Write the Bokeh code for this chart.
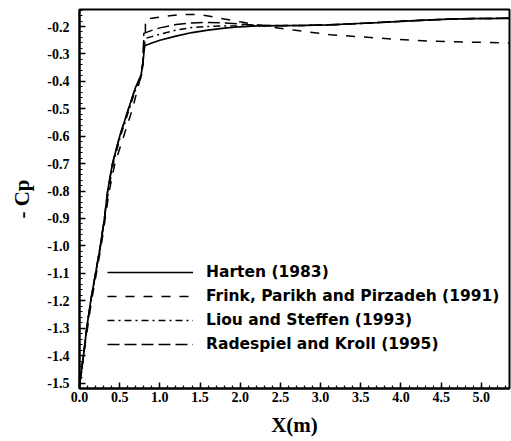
from bokeh.plotting import figure
from bokeh.models import Legend, LegendItem, FixedTicker, NumeralTickFormatter
from bokeh.embed import file_html
from bokeh.resources import INLINE

# ---- data ----
harten_x = [0.0, 0.05, 0.09, 0.14, 0.20, 0.26, 0.31, 0.35, 0.41, 0.50, 0.61, 0.70, 0.76, 0.79, 0.81, 0.90,
            1.0, 1.2, 1.4, 1.6, 1.8, 2.0, 2.2, 2.5, 2.8, 3.1, 3.4, 3.7, 4.0, 4.3, 4.6, 4.9, 5.35]
harten_y = [-1.51, -1.4, -1.3, -1.2, -1.1, -1.0, -0.9, -0.8, -0.7, -0.6, -0.5, -0.42, -0.39, -0.33, -0.27, -0.26,
            -0.25, -0.235, -0.222, -0.213, -0.206, -0.201, -0.198, -0.197, -0.196, -0.194, -0.19, -0.186, -0.181,
            -0.177, -0.173, -0.171, -0.17]

frink_x = [0.0, 0.05, 0.10, 0.15, 0.21, 0.27, 0.32, 0.37, 0.44, 0.55, 0.66, 0.73, 0.78, 0.80, 0.82, 0.82,
           0.90, 1.05, 1.28, 1.48, 1.72, 2.0, 2.3, 2.66, 3.12, 3.62, 3.9, 4.4, 5.02, 5.35]
frink_y = [-1.51, -1.4, -1.3, -1.2, -1.1, -1.0, -0.9, -0.8, -0.7, -0.6, -0.5, -0.42, -0.36, -0.30, -0.24, -0.174,
           -0.17, -0.163, -0.156, -0.156, -0.168, -0.183, -0.198, -0.213, -0.23, -0.24, -0.246, -0.254, -0.258, -0.26]

liou_x = [0.0, 0.05, 0.09, 0.14, 0.20, 0.26, 0.31, 0.36, 0.42, 0.51, 0.62, 0.71, 0.77, 0.79, 0.80, 0.90,
          1.0, 1.2, 1.4, 1.6, 1.8, 2.0, 2.2, 2.5, 2.8, 3.1, 3.4, 3.7, 4.0, 4.3, 4.6, 4.9, 5.35]
liou_y = [-1.51, -1.4, -1.3, -1.2, -1.1, -1.0, -0.9, -0.8, -0.7, -0.6, -0.5, -0.42, -0.38, -0.33, -0.245, -0.237,
          -0.228, -0.213, -0.204, -0.2, -0.198, -0.198, -0.198, -0.197, -0.196, -0.194, -0.19, -0.186, -0.181,
          -0.177, -0.173, -0.171, -0.17]

rade_x = [0.0, 0.05, 0.09, 0.14, 0.20, 0.26, 0.31, 0.35, 0.41, 0.50, 0.61, 0.70, 0.76, 0.79, 0.80, 0.90,
          1.0, 1.2, 1.4, 1.6, 1.8, 2.0, 2.2, 2.5, 2.8, 3.1, 3.4, 3.7, 4.0, 4.3, 4.6, 4.9, 5.35]
rade_y = [-1.51, -1.4, -1.3, -1.2, -1.1, -1.0, -0.9, -0.8, -0.7, -0.6, -0.5, -0.42, -0.38, -0.33, -0.225, -0.214,
          -0.205, -0.193, -0.187, -0.185, -0.187, -0.191, -0.195, -0.197, -0.196, -0.194, -0.19, -0.186, -0.181,
          -0.177, -0.173, -0.171, -0.17]

series_labels = ["Harten (1983)", "Frink, Parikh and Pirzadeh (1991)",
                 "Liou and Steffen (1993)", "Radespiel and Kroll (1995)"]

x_major_ticks = [0.0, 0.5, 1.0, 1.5, 2.0, 2.5, 3.0, 3.5, 4.0, 4.5, 5.0]
x_minor_ticks = [round(i * 0.1, 2) for i in range(0, 54)]
y_major_ticks = [-1.5, -1.4, -1.3, -1.2, -1.1, -1.0, -0.9, -0.8, -0.7, -0.6, -0.5, -0.4, -0.3, -0.2]
y_minor_ticks = [round(-1.52 + i * 0.02, 2) for i in range(0, 70)]

# ---- figure ----
p = figure(width=511, height=441, x_range=(0.0, 5.35), y_range=(-1.52, -0.138),
           output_backend="svg", toolbar_location=None,
           min_border_left=79, min_border_right=2, min_border_top=9, min_border_bottom=53)
p.background_fill_color = "white"
p.border_fill_color = "white"
p.grid.visible = False
p.outline_line_color = "black"
p.outline_line_width = 2

for ax in (p.xaxis[0], p.yaxis[0]):
    ax.axis_line_width = 2
    ax.major_tick_in = 6
    ax.major_tick_out = 0
    ax.minor_tick_in = 3
    ax.minor_tick_out = 0
    ax.major_tick_line_width = 1.5
    ax.minor_tick_line_width = 1.2
    ax.major_label_text_font = "Liberation Serif"
    ax.major_label_text_font_style = "bold"
    ax.major_label_text_font_size = "14px"
    ax.major_label_text_color = "black"
    ax.axis_label_text_font = "Liberation Serif"
    ax.axis_label_text_font_style = "bold"
    ax.axis_label_text_font_size = "21px"
    ax.axis_label_text_color = "black"
    ax.formatter = NumeralTickFormatter(format="0.0")

p.xaxis[0].ticker = FixedTicker(ticks=x_major_ticks, minor_ticks=x_minor_ticks)
p.yaxis[0].ticker = FixedTicker(ticks=y_major_ticks, minor_ticks=y_minor_ticks)
p.xaxis[0].major_label_standoff = 3
p.yaxis[0].major_label_standoff = 10
p.xaxis[0].axis_label = "X(m)"
p.yaxis[0].axis_label = "- Cp"
p.xaxis[0].axis_label_standoff = 8
p.yaxis[0].axis_label_standoff = 10

r1 = p.line(harten_x, harten_y, line_color="black", line_width=1.7)
r2 = p.line(frink_x, frink_y, line_color="black", line_width=1.5, line_dash="9 9")
r3 = p.line(liou_x, liou_y, line_color="black", line_width=1.5, line_dash="7 4 2 4")
r4 = p.line(rade_x, rade_y, line_color="black", line_width=1.5, line_dash="12 5")

legend = Legend(items=[LegendItem(label=series_labels[0], renderers=[r1]),
                       LegendItem(label=series_labels[1], renderers=[r2]),
                       LegendItem(label=series_labels[2], renderers=[r3]),
                       LegendItem(label=series_labels[3], renderers=[r4])],
                location=(28, 34), glyph_width=86, glyph_height=20, label_height=20,
                spacing=4, label_standoff=13, padding=0, margin=0,
                border_line_alpha=0, background_fill_alpha=0,
                label_text_font="DejaVu Sans", label_text_font_style="bold",
                label_text_font_size="15.5px", label_text_color="black")
p.add_layout(legend, "center")

open("out.html", "w").write(file_html(p, INLINE))
